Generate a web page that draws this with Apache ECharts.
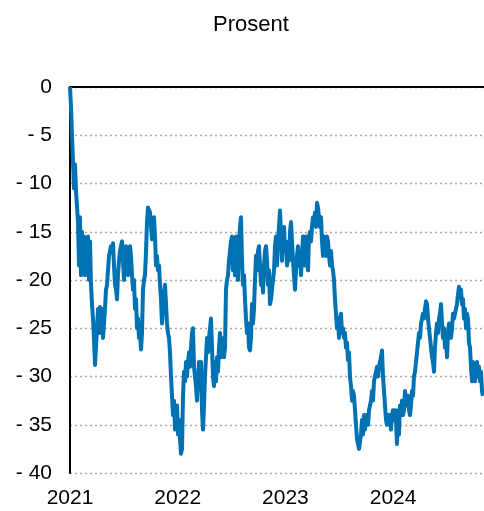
<!DOCTYPE html>
<html>
<head>
<meta charset="utf-8">
<script src="https://cdn.jsdelivr.net/npm/echarts@6/dist/echarts.min.js"></script>
<style>
html,body{margin:0;padding:0;background:#fff;}
#chart{width:484px;height:511px;}
</style>
</head>
<body>
<div id="chart"></div>
<script>
var values2021 = [0,-2,-5,-7.8,-10.5,-8,-10.8,-11,-14,-18.5,-13.5,-19.5,-15,-19,-15.5,-19.5,-16.5,-19,-15.5,-20,
  -16,-20.5,-22.5,-24,-26,-28.8,-29,-25,-23,-25.5,-22.8,-24,-23,-26,-24.5,-23,-21,-20.5,-19,-17.5,
  -17.5,-16.5,-17,-16.2,-18.5,-20.5,-21,-22,-19.5,-18,-17,-16.5,-16,-18,-20,-17,-16.5,-17.5,-19.5,-17,
  -16.5,-17.5,-19.5,-21,-20,-23,-22,-25,-24,-26,-25.5,-27.2,-25.5,-21,-20,-19.5,-17,-14,-12.5,-12.5,
  -13,-13,-15.8,-14,-13.5,-15.5,-18.5,-17.5,-19,-18.5,-20.5,-22,-24.5,-22.5,-21.5,-20.5,-20.5,-24.5,-25.5,-26,
  -27.5,-30,-32,-34,-32.5,-35.5,-34,-33];
var values2022 = [-36,-34.5,-36.5,-38,-37.5,-32,-29.5,-30.5,-28.5,-30,-28.5,-27.5,-29,-27,-25.5,-25,-29,-30,-31,-32.5,
  -30.5,-28.5,-31,-28.5,-33.5,-35.5,-33,-30,-28,-26,-27.5,-26,-25,-24,-27,-30,-31,-28.5,-30.5,-28,
  -29.5,-27,-25.5,-28,-26,-27.5,-28,-27,-21,-20,-19.5,-18,-17,-16,-15.5,-19,-16,-19.5,-15.5,-18.5,
  -20,-16,-14.5,-13.5,-18,-20.5,-19.5,-22,-24,-25.5,-24.5,-27,-27.3,-26,-22.5,-24.5,-23,-20,-17.5,-19,
  -17,-16.5,-18.5,-20.5,-19,-21.3,-18.5,-17,-16.5,-18,-20.5,-19,-22.5,-22,-21,-20,-19,-16.5,-15.5,-18.5,
  -16,-14.5,-12.8,-15,-18,-15.5,-14.5,-17];
var values2023 = [-16,-18.5,-17,-18,-15,-14,-16,-18,-19.5,-21,-19,-17.5,-16.5,-18.5,-17.5,-19.5,-17.5,-15.5,-16.5,-18.5,
  -15.5,-17,-19,-15.5,-15,-16,-14.5,-13.5,-14,-13,-14.5,-12,-12.5,-13.5,-14.5,-13.5,-16,-17.5,-15.5,-17,
  -17.5,-15.5,-16,-17.5,-18.5,-17,-18.5,-19,-20,-22,-23.5,-25,-24,-26,-24,-23.5,-25.5,-25,-26,-25.5,
  -27,-26.5,-28.3,-27.5,-30,-31,-32.5,-31.5,-32,-33.5,-35,-36.5,-37,-37.5,-37.7,-36,-34.5,-36,-34,-35.5,
  -34,-34.5,-35,-33.5,-33,-32.5,-31.5,-32.5,-30.5,-30,-29.5,-29,-30,-29,-28.5,-28,-27.3,-30,-31.5,-33,
  -34.5,-35,-34,-35,-34,-35.5,-34];
var values2024 = [-33.5,-34.5,-33.5,-34.5,-37,-33.5,-36,-33,-34,-32.5,-34,-33.5,-31.5,-32.5,-33,-32,-33.5,-34,-33,-31.5,
  -32,-30,-29.5,-28.5,-27.5,-26.5,-25.5,-26,-24.5,-24,-23.5,-24,-23,-22.2,-22.5,-24,-25,-26,-27,-28,
  -28.5,-29.5,-27,-25.5,-24.5,-25.5,-24,-23.5,-22.5,-24.5,-26,-25,-27,-26,-28,-25.5,-24.5,-25,-26,-25,
  -23.5,-24,-23.5,-23,-22.5,-21.5,-20.7,-21.5,-21,-22.5,-22,-24,-23,-25,-23.5,-24,-26.5,-27,-29,-30.5,
  -28.5,-30,-30.5,-29,-28.5,-30,-29,-30.5,-29.5,-31.5,-32];
var yearLabels = [2021, 2022, 2023, 2024];
var yTicks = [0, -5, -10, -15, -20, -25, -30, -35, -40];

var START_YEAR = 2021;
var SAMPLES_PER_YEAR = 107.7;
var allValues = values2021.concat(values2022, values2023, values2024);
var seriesData = allValues.map(function (v, i) { return [START_YEAR + i / SAMPLES_PER_YEAR, v]; });
var xMax = START_YEAR + 414 / SAMPLES_PER_YEAR;

var FONT = 'Liberation Sans, Arial, sans-serif';
var chart = echarts.init(document.getElementById('chart'), null, {renderer: 'canvas'});
chart.setOption({
  animation: false,
  backgroundColor: '#ffffff',
  title: {
    text: 'Prosent',
    left: 208,
    top: 9,
    textStyle: {fontFamily: FONT, fontSize: 22, fontWeight: 'normal', color: '#000'}
  },
  grid: {left: 70, right: 0, top: 87, bottom: 38, containLabel: false},
  xAxis: [{
    type: 'value',
    position: 'bottom',
    min: START_YEAR,
    max: xMax,
    interval: 1,
    axisLine: {show: false},
    axisTick: {show: false},
    splitLine: {show: false},
    axisLabel: {
      fontFamily: FONT, fontSize: 21, color: '#000', margin: 15,
      showMaxLabel: false,
      formatter: function (v) { return yearLabels.indexOf(Math.round(v)) >= 0 && Math.abs(v - Math.round(v)) < 1e-6 ? String(Math.round(v)) : ''; }
    }
  }, {
    type: 'value',
    position: 'top',
    min: START_YEAR,
    max: xMax,
    interval: 1,
    axisLine: {show: true, lineStyle: {color: '#000', width: 2}},
    axisTick: {show: false},
    splitLine: {show: false},
    axisLabel: {show: false}
  }],
  yAxis: {
    type: 'value',
    min: -40,
    max: 0,
    interval: 5,
    axisLine: {show: true, lineStyle: {color: '#000', width: 2}},
    axisTick: {show: false},
    splitLine: {show: true, lineStyle: {type: [2, 3], color: '#aea59e', width: 1.3}},
    axisLabel: {
      fontFamily: FONT, fontSize: 21, color: '#000', margin: 18,
      formatter: function (v) { return yTicks.indexOf(v) < 0 ? '' : (v === 0 ? '0' : '- ' + Math.abs(v)); }
    }
  },
  series: [{
    type: 'line',
    xAxisIndex: 0,
    data: seriesData,
    showSymbol: false,
    symbol: 'none',
    lineStyle: {color: '#0072b3', width: 4, join: 'round'},
    z: 3
  }]
});
</script>
</body>
</html>
